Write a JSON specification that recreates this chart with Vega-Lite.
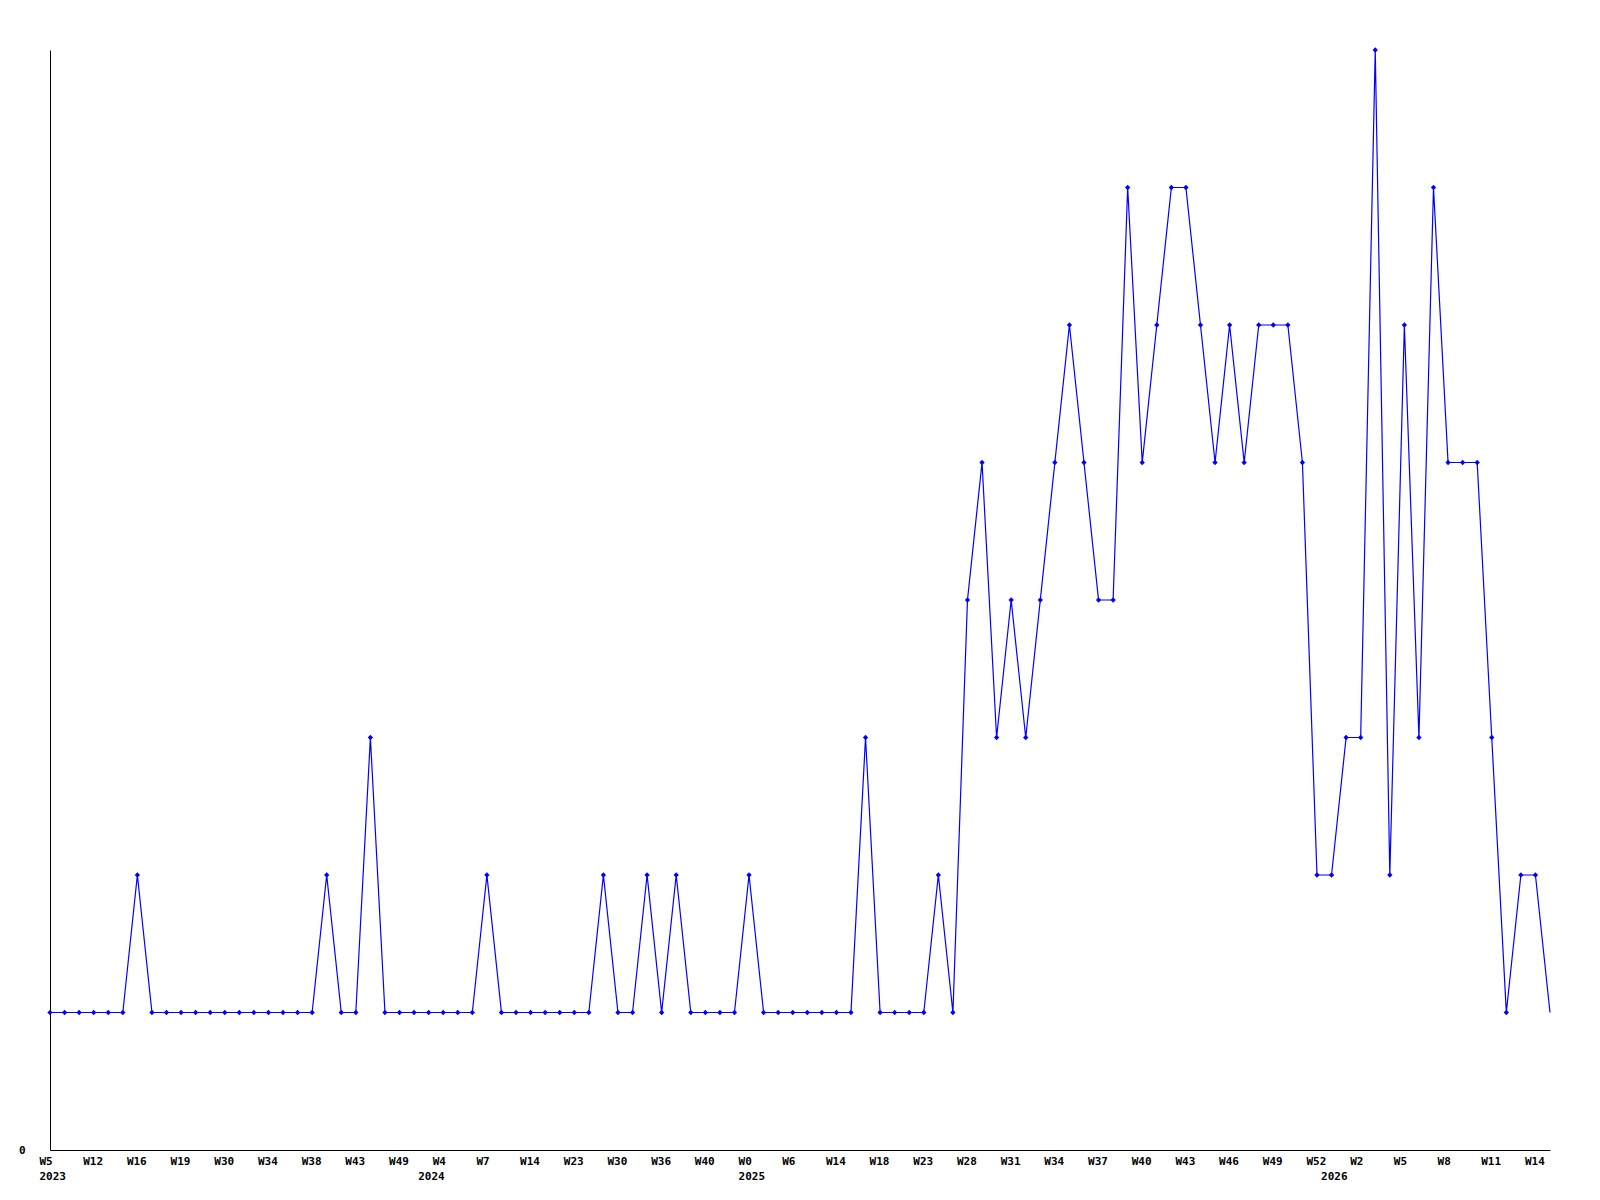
{
  "$schema": "https://vega.github.io/schema/vega-lite/v6.json",
  "width": 1500,
  "height": 1100,
  "autosize": "none",
  "padding": {"left": 50, "top": 50, "right": 50, "bottom": 50},
  "background": "white",
  "config": {"view": {"stroke": null}},
  "data": {
    "values": [
      {"wk": "2023 W5", "v": 1}, {"wk": "2023 W8", "v": 1}, {"wk": "2023 W10", "v": 1}, {"wk": "2023 W12", "v": 1},
      {"wk": "2023 W13", "v": 1}, {"wk": "2023 W15", "v": 1}, {"wk": "2023 W16", "v": 2}, {"wk": "2023 W17", "v": 1},
      {"wk": "2023 W18", "v": 1}, {"wk": "2023 W19", "v": 1}, {"wk": "2023 W22", "v": 1}, {"wk": "2023 W27", "v": 1},
      {"wk": "2023 W30", "v": 1}, {"wk": "2023 W31", "v": 1}, {"wk": "2023 W33", "v": 1}, {"wk": "2023 W34", "v": 1},
      {"wk": "2023 W35", "v": 1}, {"wk": "2023 W37", "v": 1}, {"wk": "2023 W38", "v": 1}, {"wk": "2023 W39", "v": 2},
      {"wk": "2023 W41", "v": 1}, {"wk": "2023 W43", "v": 1}, {"wk": "2023 W44", "v": 3}, {"wk": "2023 W47", "v": 1},
      {"wk": "2023 W49", "v": 1}, {"wk": "2023 W51", "v": 1},
      {"wk": "2024 W0", "v": 1}, {"wk": "2024 W4", "v": 1}, {"wk": "2024 W5", "v": 1}, {"wk": "2024 W6", "v": 1},
      {"wk": "2024 W7", "v": 2}, {"wk": "2024 W9", "v": 1}, {"wk": "2024 W12", "v": 1}, {"wk": "2024 W14", "v": 1},
      {"wk": "2024 W17", "v": 1}, {"wk": "2024 W20", "v": 1}, {"wk": "2024 W23", "v": 1}, {"wk": "2024 W25", "v": 1},
      {"wk": "2024 W28", "v": 2}, {"wk": "2024 W30", "v": 1}, {"wk": "2024 W33", "v": 1}, {"wk": "2024 W35", "v": 2},
      {"wk": "2024 W36", "v": 1}, {"wk": "2024 W38", "v": 2}, {"wk": "2024 W39", "v": 1}, {"wk": "2024 W40", "v": 1},
      {"wk": "2024 W44", "v": 1}, {"wk": "2024 W48", "v": 1},
      {"wk": "2025 W0", "v": 2}, {"wk": "2025 W2", "v": 1}, {"wk": "2025 W4", "v": 1}, {"wk": "2025 W6", "v": 1},
      {"wk": "2025 W8", "v": 1}, {"wk": "2025 W11", "v": 1}, {"wk": "2025 W14", "v": 1}, {"wk": "2025 W16", "v": 1},
      {"wk": "2025 W17", "v": 3}, {"wk": "2025 W18", "v": 1}, {"wk": "2025 W20", "v": 1}, {"wk": "2025 W22", "v": 1},
      {"wk": "2025 W23", "v": 1}, {"wk": "2025 W25", "v": 2}, {"wk": "2025 W27", "v": 1}, {"wk": "2025 W28", "v": 4},
      {"wk": "2025 W29", "v": 5}, {"wk": "2025 W30", "v": 3}, {"wk": "2025 W31", "v": 4}, {"wk": "2025 W32", "v": 3},
      {"wk": "2025 W33", "v": 4}, {"wk": "2025 W34", "v": 5}, {"wk": "2025 W35", "v": 6}, {"wk": "2025 W36", "v": 5},
      {"wk": "2025 W37", "v": 4}, {"wk": "2025 W38", "v": 4}, {"wk": "2025 W39", "v": 7}, {"wk": "2025 W40", "v": 5},
      {"wk": "2025 W41", "v": 6}, {"wk": "2025 W42", "v": 7}, {"wk": "2025 W43", "v": 7}, {"wk": "2025 W44", "v": 6},
      {"wk": "2025 W45", "v": 5}, {"wk": "2025 W46", "v": 6}, {"wk": "2025 W47", "v": 5}, {"wk": "2025 W48", "v": 6},
      {"wk": "2025 W49", "v": 6}, {"wk": "2025 W50", "v": 6}, {"wk": "2025 W51", "v": 5}, {"wk": "2025 W52", "v": 2},
      {"wk": "2026 W0", "v": 2}, {"wk": "2026 W1", "v": 3}, {"wk": "2026 W2", "v": 3}, {"wk": "2026 W3", "v": 8},
      {"wk": "2026 W4", "v": 2}, {"wk": "2026 W5", "v": 6}, {"wk": "2026 W6", "v": 3}, {"wk": "2026 W7", "v": 7},
      {"wk": "2026 W8", "v": 5}, {"wk": "2026 W9", "v": 5}, {"wk": "2026 W10", "v": 5}, {"wk": "2026 W11", "v": 3},
      {"wk": "2026 W12", "v": 1}, {"wk": "2026 W13", "v": 2}, {"wk": "2026 W14", "v": 2}, {"wk": "2026 W15", "v": 1}
    ]
  },
  "encoding": {
    "x": {
      "field": "wk",
      "type": "ordinal",
      "sort": null,
      "scale": {"type": "point", "padding": 0},
      "axis": {
        "title": null,
        "values": ["2023 W5", "2023 W12", "2023 W16", "2023 W19", "2023 W30", "2023 W34", "2023 W38", "2023 W43", "2023 W49",
                   "2024 W0", "2024 W4", "2024 W7", "2024 W14", "2024 W23", "2024 W30", "2024 W36", "2024 W40",
                   "2025 W0", "2025 W6", "2025 W14", "2025 W18", "2025 W23", "2025 W28", "2025 W31", "2025 W34", "2025 W37",
                   "2025 W40", "2025 W43", "2025 W46", "2025 W49", "2025 W52",
                   "2026 W0", "2026 W2", "2026 W5", "2026 W8", "2026 W11", "2026 W14"],
        "labelExpr": "datum.value == '2023 W5' ? ['W5', '2023'] : datum.value == '2024 W0' ? ['', '2024'] : datum.value == '2025 W0' ? ['W0', '2025'] : datum.value == '2026 W0' ? ['', '2026'] : split(datum.value, ' ')[1]",
        "labelAlign": "left",
        "labelBaseline": "top",
        "labelOffset": -11,
        "labelPadding": 5,
        "labelLineHeight": 15,
        "labelFont": "DejaVu Sans Mono",
        "labelFontWeight": "bold",
        "labelFontSize": 11,
        "labelColor": "black",
        "labelAngle": 0,
        "labelOverlap": false,
        "labelFlush": false,
        "labelBound": false,
        "ticks": false,
        "grid": false,
        "domainColor": "black",
        "domainWidth": 1
      }
    },
    "y": {
      "field": "v",
      "type": "quantitative",
      "scale": {"domain": [0, 8], "nice": false, "zero": true},
      "axis": {
        "title": null,
        "values": [0],
        "ticks": false,
        "grid": false,
        "labelPadding": 25,
        "labelFont": "DejaVu Sans Mono",
        "labelFontWeight": "bold",
        "labelFontSize": 11,
        "labelColor": "black",
        "labelBaseline": "middle",
        "domainColor": "black",
        "domainWidth": 1
      }
    }
  },
  "layer": [
    {"mark": {"type": "line", "color": "#0000ff", "strokeWidth": 1.2}},
    {
      "transform": [{"filter": "datum.wk != '2026 W15'"}],
      "mark": {"type": "point", "shape": "diamond", "filled": true, "color": "#0000ff", "size": 28, "opacity": 1}
    }
  ]
}
